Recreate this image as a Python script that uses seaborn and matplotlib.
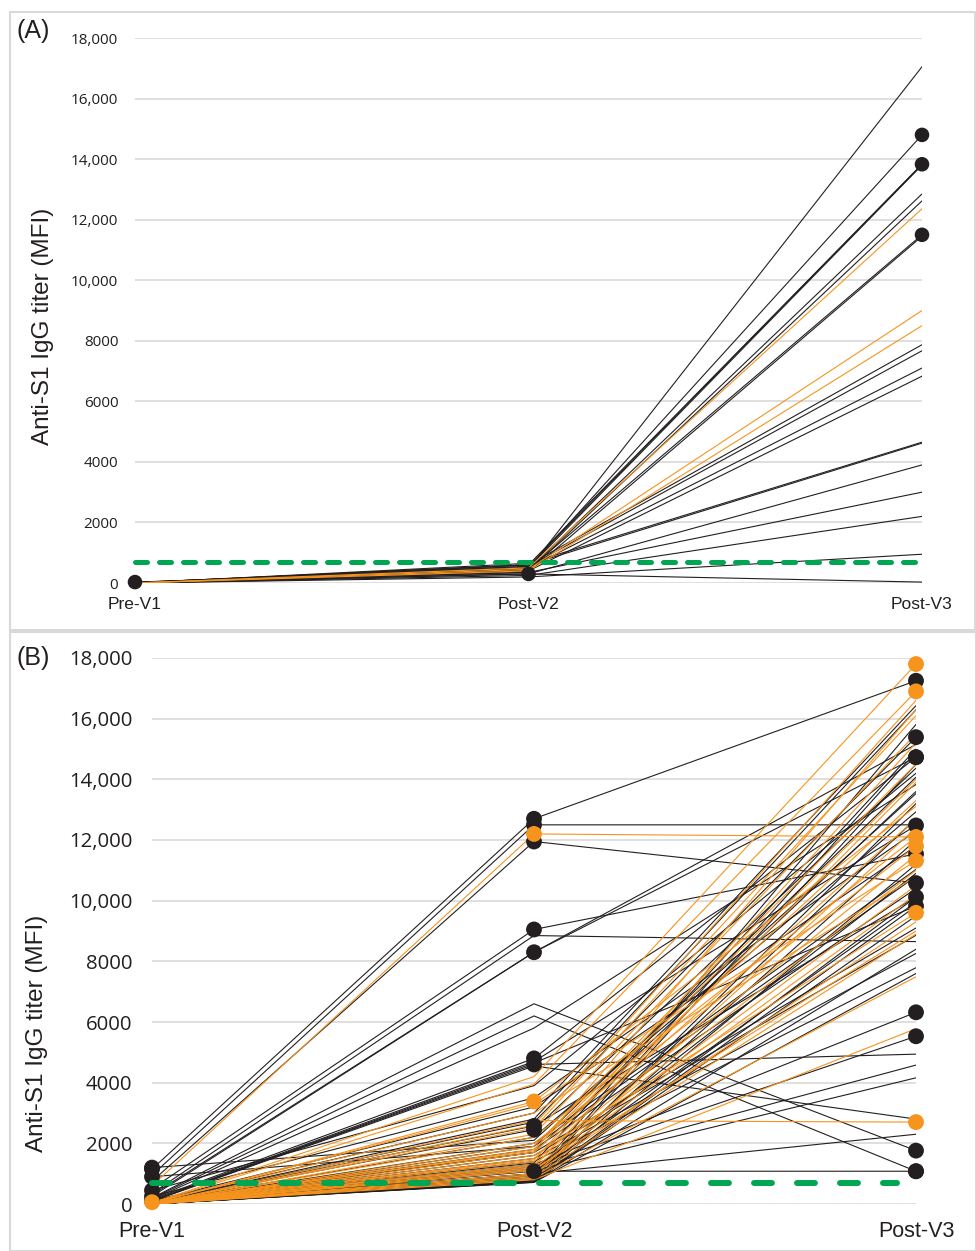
import matplotlib
matplotlib.use("Agg")
import matplotlib.pyplot as plt
import seaborn as sns
import pandas as pd
from matplotlib.ticker import FuncFormatter
from matplotlib.patches import Rectangle

VISITS = ["Pre-V1", "Post-V2", "Post-V3"]
THRESHOLD = 700
PALETTE = {"black": "#231f20", "orange": "#f7941d"}

# panel A - one row per subject (pre, post-V2, post-V3), marks = visits with a dot
a_pre = [30, 20, 20, 10, 10, 0, 0, 0, 0, 0, 0, 0, 0, 0, 0, 0, 0, 0, 0, 0, 0, 0, 0]
a_v2 = [450, 500, 550, 600, 500, 450, 400, 450, 350, 600, 550, 500, 400, 650, 600, 300, 350,
        250, 200, 300, 500, 450, 400]
a_v3 = [17050, 14800, 13830, 13830, 13800, 12850, 12620, 11500, 11450, 7870, 7670, 7100, 6830,
        4650, 4620, 3900, 3000, 2200, 950, 30, 12360, 9000, 8500]
a_group = ["black"] * 20 + ["orange"] * 3
a_marks = ["1", "3", "3", "", "", "", "", "3", "", "", "", "", "", "", "", "", "", "", "", "2",
           "", "", ""]

# panel B
b_pre = [1150, 950, 750, 500, 350, 300, 250, 200, 180, 150, 150, 120, 100, 100, 90, 80, 70, 60,
         60, 50, 900, 1200, 40, 40, 30, 30, 30, 20, 20, 20, 10, 10, 10, 10, 0, 0, 0, 0, 0, 0,
         0, 0, 0, 0, 0, 0, 0, 450, 250, 100, 50, 50, 40, 30, 20,
         600, 40, 30, 20, 20, 10, 10, 10, 0, 0, 0, 0, 0, 0, 0, 0, 0, 0, 0, 0, 0, 0, 0, 0,
         50, 30, 20, 0, 0, 60]
b_v2 = [12700, 12500, 11950, 9050, 8850, 8300, 8300, 6600, 6200, 5800, 4800, 4700, 4650, 4600,
        4550, 3000, 2800, 2700, 2575, 2450, 1900, 2100, 2200, 2000, 1900, 1800, 1700, 1600, 1500,
        1400, 1300, 1250, 1200, 1100, 1080, 1000, 950, 900, 850, 800, 780, 760, 750, 740, 730,
        720, 710, 3900, 3500, 3200, 1700, 1350, 1150, 1000, 900,
        12200, 4200, 3950, 3380, 3300, 2750, 2600, 2500, 2300, 2200, 2000, 1900, 1800, 1700,
        1600, 1500, 1400, 1300, 1200, 1100, 1000, 900, 850, 800,
        1750, 1450, 1250, 950, 1150, 3000]
b_v3 = [17250, 12500, 10580, 11540, 8650, 15150, 14730, 1760, 1080, 13830, 14730, 12480, 9820,
        4940, 2800, 16430, 16290, 15390, 10120, 14370, 14070, 13530, 12930, 11030, 10800, 10400,
        9100, 8860, 8260, 7790, 6320, 5530, 4580, 4160, 1080, 2300, 15810, 14900, 14500, 13200,
        12000, 11200, 10120, 9820, 9500, 8400, 7600, 14200, 12300, 11800, 13600, 15000, 10900,
        9950, 12700,
        12100, 17800, 16900, 13110, 11320, 2700, 16600, 16100, 15500, 12100, 11800, 14500, 14000,
        13300, 9600, 12700, 11500, 11000, 10500, 10200, 9300, 8900, 7490, 5780,
        16300, 15200, 13900, 12400, 9000, 10800]
b_group = ["black"] * 55 + ["orange"] * 30
b_marks = ["123", "2", "23", "23", "", "2", "3", "3", "3", "", "23", "3", "", "2", "", "", "",
           "3", "2", "2", "1", "1", "", "", "", "", "", "", "", "", "3", "3", "", "", "23", "",
           "", "", "", "", "", "", "3", "3", "", "", "", "1", "1", "1", "", "", "", "", "",
           "2", "3", "3", "2", "3", "3", "", "", "", "3", "3", "", "", "", "3", "", "", "", "",
           "", "", "", "", "", "", "", "", "", "", "1"]


def make_long(pre, v2, v3, group, marks):
    rows = []
    for i in range(len(pre)):
        for j, val in enumerate([pre[i], v2[i], v3[i]]):
            rows.append({"subject": i, "visit": j, "titer": val, "group": group[i],
                         "marked": str(j + 1) in marks[i]})
    return pd.DataFrame(rows)


def fmt(v, pos):
    return f"{int(v):,}" if v >= 10000 else f"{int(v)}"


def spaghetti(ax, df, tick_size, cat_size, ypad, xpad, msize, dash, dash_lw, dash_end):
    sns.lineplot(data=df, x="visit", y="titer", units="subject", estimator=None, hue="group",
                 palette=PALETTE, linewidth=0.8, legend=False, sort=False, ax=ax)
    pts = df[df["marked"]]
    sns.scatterplot(data=pts, x="visit", y="titer", hue="group", palette=PALETTE, s=msize,
                    linewidth=0, legend=False, ax=ax, zorder=5, clip_on=False)
    ax.plot([0, dash_end], [THRESHOLD, THRESHOLD], color="#00a651", lw=dash_lw, dashes=dash,
            dash_capstyle="round", zorder=6, clip_on=False)

    ax.set_xlim(0, 2)
    ax.set_ylim(0, 18000)
    ax.set_yticks(range(0, 18001, 2000))
    ax.yaxis.set_major_formatter(FuncFormatter(fmt))
    ax.set_xticks([0, 1, 2])
    ax.set_xticklabels(VISITS, family="Liberation Sans", fontsize=cat_size, color="#231f20")
    for lab in ax.get_yticklabels():
        lab.set_family("Open Sans")
        lab.set_fontsize(tick_size)
        lab.set_color("#231f20")
    ax.tick_params(axis="y", length=0, pad=ypad)
    ax.tick_params(axis="x", length=0, pad=xpad)
    ax.grid(axis="y", color="#d9d9d9", lw=1.2)
    ax.grid(axis="x", visible=False)
    for s in ax.spines.values():
        s.set_visible(False)
    ax.set_xlabel("")
    ax.set_ylabel("")


sns.set_style("white")
fig = plt.figure(figsize=(9.76, 12.51), dpi=100)
W, H = 976, 1251

# panel frames
fig.patches.append(Rectangle((10 / W, 1 - 630 / H), 965 / W, 618 / H, transform=fig.transFigure,
                             fill=False, ec="#d9d9d9", lw=1.5))
fig.patches.append(Rectangle((10 / W, 0), 966 / W, 1 - 632 / H, transform=fig.transFigure,
                             fill=False, ec="#d9d9d9", lw=1.5))

ax_a = fig.add_axes([135 / W, 1 - 583 / H, 787 / W, 545 / H])
spaghetti(ax_a, make_long(a_pre, a_v2, a_v3, a_group, a_marks), 11, 12.5, 12, 10, 110,
          (2.4, 2.4), 3.6, 2)

ax_b = fig.add_axes([152 / W, 1 - 1204 / H, 764 / W, 546 / H])
spaghetti(ax_b, make_long(b_pre, b_v2, b_v3, b_group, b_marks), 14.7, 15.5, 14, 12, 130,
          (3, 4.2), 4.3, 1.95)

ylab = "Anti-S1 IgG titer (MFI)"
fig.text(43 / W, 1 - 326 / H, ylab, rotation=90, ha="center", va="center",
         family="Liberation Sans", fontsize=17.5, color="#231f20")
fig.text(37 / W, 1 - 1033 / H, ylab, rotation=90, ha="center", va="center",
         family="Liberation Sans", fontsize=17.5, color="#231f20")
fig.text(17 / W, 1 - 31 / H, "(A)", ha="left", va="center", family="Liberation Sans",
         fontsize=18, color="#231f20")
fig.text(17 / W, 1 - 658 / H, "(B)", ha="left", va="center", family="Liberation Sans",
         fontsize=18, color="#231f20")

fig.savefig("out.png", dpi=100)
